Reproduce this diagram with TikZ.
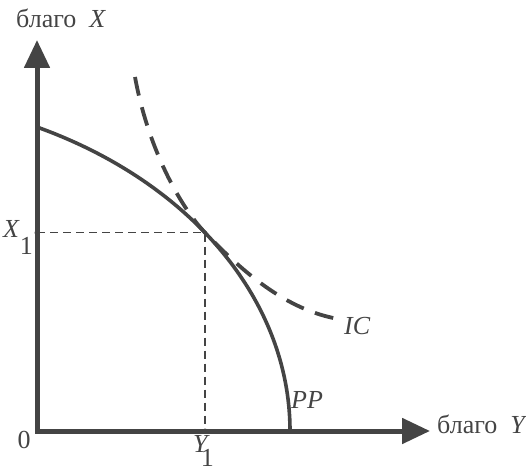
\documentclass[tikz,border=0pt]{standalone}
\usepackage{fontspec}
\setmainfont{Liberation Serif}
\usetikzlibrary{arrows.meta,calc}
\definecolor{ink}{HTML}{444444}
\begin{document}
\begin{tikzpicture}[x=1pt,y=1pt,
  axisline/.style={draw=ink,line width=5pt,line join=miter,
    {Triangle[length=28pt,width=25pt]}-{Triangle[length=28pt,width=25pt]}},
  ppline/.style={draw=ink,line width=3.6pt},
  icline/.style={draw=ink,line width=3.8pt,dash pattern=on 19pt off 12pt},
  guide/.style={draw=ink,line width=1.4pt,dash pattern=on 8pt off 5pt},
  lbl/.style={inner sep=0pt,text=ink,font=\fontsize{26}{30}\selectfont},
  dot/.style={circle,fill=ink,inner sep=0pt,minimum size=5pt}]
\useasboundingbox (0,0) rectangle (526,468);
% axes
\coordinate (O) at (37,37);
\coordinate (ytip) at (37,428);
\coordinate (xtip) at (430,37);
\draw[axisline] (ytip) -- (O) -- (xtip);
% PP curve (ellipse arc)
\coordinate (PPc) at (-150,37);
\coordinate (PPs) at ($(PPc)+(64.85:440 and 335.8)$);
\coordinate (T) at ($(PPc)+(36.2:440 and 335.8)$);
\draw[ppline] (PPs) arc[start angle=64.85,end angle=0,x radius=440,y radius=335.8];
% guides
\node[dot] (X1) at (O |- T) {};
\node[dot] (Y1) at (T |- O) {};
\draw[guide] (X1.center) -- (T) -- (Y1.center);
% IC curve
\coordinate (ICs) at (135,391);
\coordinate (ICe) at (345,148);
\draw[icline] (ICs) .. controls (148,320) and ($(T)+(-25,26.05)$) .. (T)
  .. controls ($(T)+(40,-41.7)$) and (290,155) .. (ICe);
% labels
\node[lbl,anchor=base west] (lx) at (16,440) {благо\hspace{0.5em}\textit{X}};
\node[lbl,anchor=base west] (ly) at (437,35) {благо\hspace{0.5em}\textit{Y}};
\node[lbl,anchor=base] (l0) at (24,20) {0};
\node[lbl,anchor=base east] (lx1) at (33,230) {\textit{X}\kern0pt\raisebox{-17pt}{1}};
\node[lbl,anchor=base west] (ly1) at (193,16) {\textit{Y}\kern-9pt\raisebox{-14pt}{1}};
\node[lbl,anchor=base west] (lpp) at (291,60) {\textit{PP}};
\node[lbl,anchor=base west] (lic) at (344,133) {\textit{IC}};
\end{tikzpicture}
\end{document}
